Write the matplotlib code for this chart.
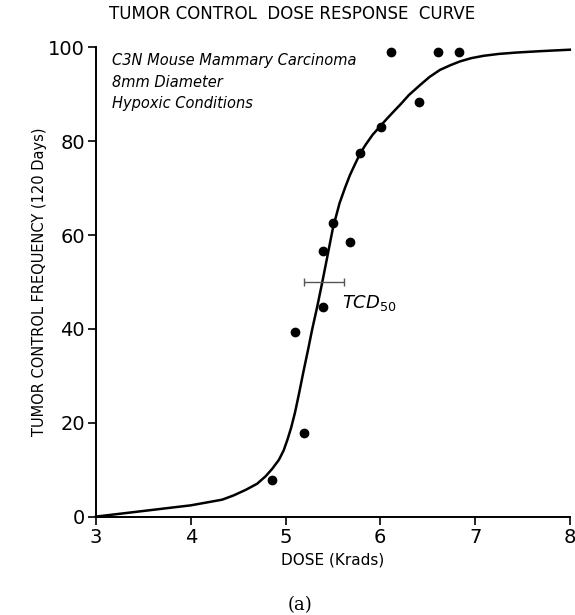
"""Tumor control dose response curve (C3N mouse mammary carcinoma)."""

import matplotlib
matplotlib.use('Agg')
import matplotlib.pyplot as plt

# measured points
dose_pts = [4.86, 5.19, 5.10, 5.40, 5.40, 5.50, 5.68, 5.79, 6.01, 6.41, 6.11, 6.61, 6.83]
freq_pts = [7.8, 17.8, 39.3, 44.6, 56.5, 62.6, 58.5, 77.4, 83.1, 88.4, 99.0, 99.0, 99.0]

# fitted curve
curve_dose = [3.0, 3.5, 4.0, 4.33, 4.45, 4.58, 4.70, 4.79, 4.86, 4.93, 4.98, 5.02,
              5.06, 5.10, 5.14, 5.19, 5.24, 5.28, 5.335, 5.385, 5.44, 5.50, 5.57,
              5.63, 5.68, 5.74, 5.79, 5.85, 5.92, 6.0, 6.07, 6.14, 6.22, 6.30,
              6.41, 6.52, 6.63, 6.74, 6.84, 6.96, 7.09, 7.25, 7.44, 7.7, 8.0]
curve_freq = [0, 1.2, 2.4, 3.6, 4.5, 5.7, 7.0, 8.6, 10.2, 12.1, 14.1, 16.4,
              19.0, 22.2, 26.0, 31.0, 35.8, 39.8, 44.8, 49.7, 55.3, 61.5, 66.8,
              70.2, 72.8, 75.4, 77.5, 79.4, 81.4, 83.2, 84.8, 86.3, 88.0, 89.8,
              91.8, 93.7, 95.2, 96.2, 97.0, 97.7, 98.2, 98.6, 98.9, 99.2, 99.5]

# TCD50 with its range
tcd50 = 5.405
tcd50_err = 0.215

x_ticks = [3, 4, 5, 6, 7, 8]
y_ticks = [0, 20, 40, 60, 80, 100]

notes = ["C3N Mouse Mammary Carcinoma", "8mm Diameter", "Hypoxic Conditions"]

fig = plt.figure(figsize=(5.75, 6.15), dpi=100)
ax = fig.add_axes([0.167, 0.160, 0.824, 0.763])

ax.plot(curve_dose, curve_freq, color='black', linewidth=1.8, clip_on=False,
        solid_joinstyle='round')
ax.plot(dose_pts, freq_pts, 'o', color='black', markersize=6, clip_on=False)
ax.errorbar([tcd50], [50], xerr=[tcd50_err], color='#555555', linewidth=1,
            capsize=3, capthick=1)

ax.set_xlim(3, 8)
ax.set_ylim(0, 100)
ax.set_xticks(x_ticks)
ax.set_yticks(y_ticks)
ax.tick_params(direction='out', length=6, width=1.2, labelsize=14, pad=2)
for side in ['top', 'right']:
    ax.spines[side].set_visible(False)
for side in ['left', 'bottom']:
    ax.spines[side].set_linewidth(1.4)

ax.set_xlabel("DOSE (Krads)", fontsize=11, labelpad=4)
ax.set_ylabel("TUMOR CONTROL FREQUENCY (120 Days)", fontsize=10.5, labelpad=1)

for i, line in enumerate(notes):
    ax.text(3.17, 97.1 - i * 4.5, line, fontsize=10.5, style='italic',
            va='center', ha='left')

ax.text(5.60, 45.6, r"$\mathit{TCD}_{50}$", fontsize=13, va='center', ha='left')

fig.text(0.508, 0.977, "TUMOR CONTROL  DOSE RESPONSE  CURVE", fontsize=12,
         ha='center', va='center')
fig.text(0.522, 0.016, "(a)", fontsize=13, family='DejaVu Serif',
         ha='center', va='center')

fig.savefig('out.png', dpi=100)
